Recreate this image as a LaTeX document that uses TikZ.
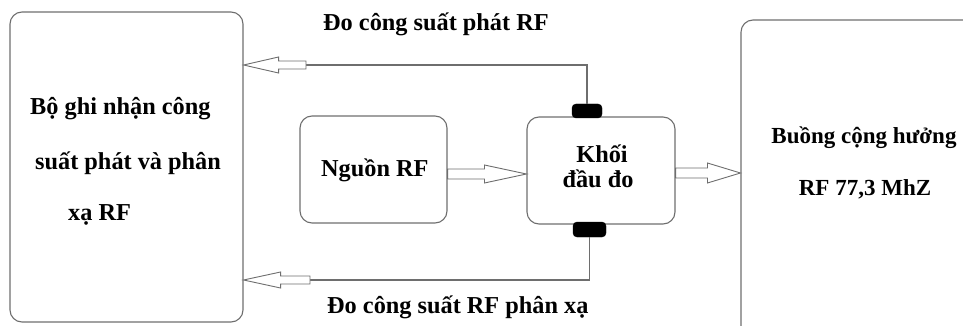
\documentclass[tikz,border=0pt]{standalone}
\usepackage{fontspec}
\setmainfont{Liberation Serif}[BoldFont={Liberation Serif Bold}]
\usetikzlibrary{calc}
\definecolor{edge}{HTML}{6E6E6E}
\tikzset{
  block/.style={draw=edge, line width=1.1pt, rounded corners=12pt, inner sep=0pt},
  conn/.style={draw=edge, line width=1.1pt},
  port/.style={fill=black, draw=black, rounded corners=4pt, minimum width=30pt,
               minimum height=14pt, inner sep=0pt},
  lbl/.style={font=\bfseries\fontsize{24.3}{28}\selectfont, inner sep=0pt, anchor=base west},
  lblsmall/.style={lbl, font=\bfseries\fontsize{23}{27}\selectfont, anchor=base},
}
% Hollow block arrow from #1 to #2 (horizontal): shaft half-width #3,
% head half-width #4, head length #5 (all in pt)
\newcommand\hollowarrow[5]{%
  \draw[conn, line width=0.9pt, fill=white]
    let \p1=#1, \p2=#2, \p3=($(\p2)!#5pt!(\p1)$) in
    (\x1,{\y1+#3pt}) -- (\x3,{\y1+#3pt}) -- (\x3,{\y1+#4pt}) -- (\x2,\y1)
    -- (\x3,{\y1-#4pt}) -- (\x3,{\y1-#3pt}) -- (\x1,{\y1-#3pt}) -- cycle;}

\begin{document}
\begin{tikzpicture}[x=1pt,y=-1pt]
\useasboundingbox (0,0) rectangle (963,326);
\clip (0,0) rectangle (963,326);

% blocks
\node[block, minimum width=233, minimum height=310] (rec) at (126.5,167) {};
\node[block, minimum width=147, minimum height=107] (src) at (373.5,169.5) {};
\node[block, minimum width=148, minimum height=107] (probe) at (601,170.5) {};
\node[block, minimum width=300, minimum height=400] (cav) at (891,220) {};

% coupler ports on the probe block
\node[port] (topPort) at (587,111) {};
\node[port, minimum width=33, minimum height=15] (botPort) at (589.5,229.5) {};

% block texts
\node[lbl] (recA) at (30,115) {Bộ ghi nhận công};
\node[lbl] (recB) at (35,169) {suất phát và phân};
\node[lbl] (recC) at (68,220) {xạ RF};
\node[lbl] (srcT) at (321,176) {Nguồn RF};
\node[lbl, anchor=base] (probeA) at (602,162) {Khối};
\node[lbl, anchor=base] (probeB) at (598,187) {đầu đo};
\node[lblsmall] (cavA) at (864,143) {Buồng cộng hưởng};
\node[lblsmall] (cavB) at (865,195) {RF 77,3 MhZ};

% measurement path labels
\node[lbl] (fwdT) at (323,31) {Đo công suất phát RF};
\node[lbl] (refT) at (327,313) {Đo công suất RF phân xạ};

% measurement paths back to the recorder
\coordinate (fwdTap) at (306,65);
\coordinate (refTap) at (310,280);
\coordinate (srcOut) at (src.east |- 0,174);
\coordinate (probeIn) at (probe.west |- 0,174);
\coordinate (probeOut) at (probe.east |- 0,173);
\coordinate (cavIn) at (cav.west |- 0,173);
\coordinate (fwdIn) at (rec.east |- fwdTap);
\coordinate (refIn) at (rec.east |- refTap);
\draw[conn] (fwdTap) -| (topPort.north);
\draw[conn] (refTap) -| (botPort.south);
\hollowarrow{(fwdTap)}{(fwdIn)}{4}{8}{35}
\hollowarrow{(refTap)}{(refIn)}{4}{8}{37}

% RF power flow
\hollowarrow{(srcOut)}{(probeIn)}{5}{9}{42}
\hollowarrow{(probeOut)}{(cavIn)}{5}{10}{33}
\end{tikzpicture}
\end{document}
